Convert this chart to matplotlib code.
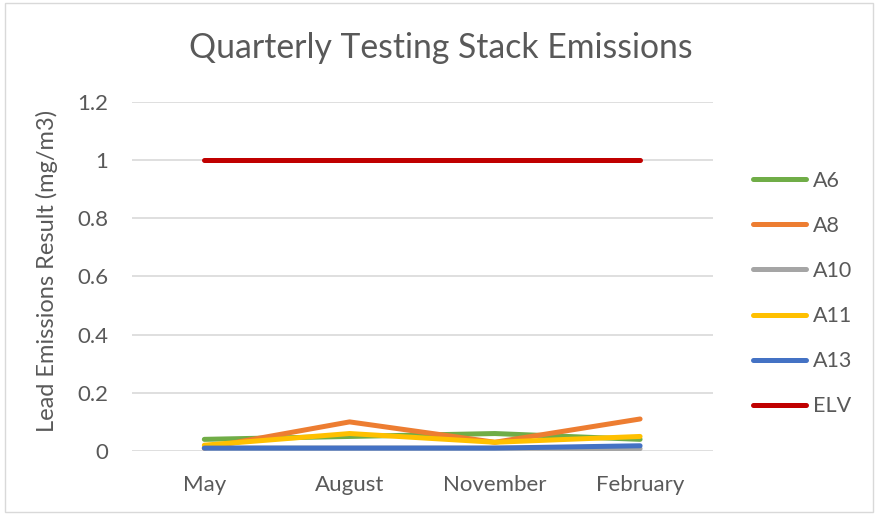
import matplotlib
matplotlib.use("Agg")
import matplotlib.pyplot as plt
from matplotlib.patches import Rectangle

categories = ["May", "August", "November", "February"]
A6 = [0.04, 0.05, 0.06, 0.04]
A8 = [0.01, 0.10, 0.03, 0.11]
A10 = [0.01, 0.01, 0.01, 0.008]
A11 = [0.02, 0.06, 0.03, 0.05]
A13 = [0.01, 0.01, 0.01, 0.018]
ELV = [1, 1, 1, 1]
yticks = [0, 0.2, 0.4, 0.6, 0.8, 1, 1.2]
ytick_labels = ["0", "0.2", "0.4", "0.6", "0.8", "1", "1.2"]

series = [("A6", A6, "#70AD47"), ("A8", A8, "#ED7D31"), ("A10", A10, "#A5A5A5"),
          ("A11", A11, "#FFC000"), ("A13", A13, "#4472C4"), ("ELV", ELV, "#C00000")]

plt.rcParams['font.family'] = ['Lato', 'DejaVu Sans']
txt = "#595959"

fig = plt.figure(figsize=(8.78, 5.14), dpi=100)
fig.patches.append(Rectangle((5/878, 2/514), 868/878, 509/514, transform=fig.transFigure,
                             fill=False, edgecolor="#D9D9D9", linewidth=1))
ax = fig.add_axes([131.7/878, 63/514, 581/878, 349.3/514])
x = list(range(len(categories)))
for name, vals, col in series:
    ax.plot(x, vals, color=col, linewidth=3.6, solid_capstyle='round', label=name)

ax.set_xlim(-0.5, 3.5)
ax.set_ylim(0, 1.2)
ax.set_yticks(yticks)
ax.set_yticklabels(ytick_labels)
ax.set_xticks(x)
ax.set_xticklabels(categories)
ax.grid(axis='y', color="#D9D9D9", linewidth=1.2)
ax.set_axisbelow(True)
for s in ax.spines.values():
    s.set_visible(False)
ax.tick_params(axis='both', length=0, labelsize=16, colors=txt)
ax.tick_params(axis='y', pad=17)
ax.tick_params(axis='x', pad=17)
ax.set_ylabel("Lead Emissions Result (mg/m3)", fontsize=17, color=txt)
ax.yaxis.set_label_coords(58/878, 1 - 271/514, transform=fig.transFigure)
fig.text(441/878, 1 - 48/514, "Quarterly Testing Stack Emissions", fontsize=24.3,
         color=txt, ha='center', va='center')

leg = ax.legend(loc='center left', bbox_to_anchor=(734/878, 1 - 293.5/514),
                bbox_transform=fig.transFigure, frameon=False, fontsize=15.5,
                handlelength=2.45, handletextpad=0.3, labelspacing=1.17,
                labelcolor=txt)
fig.savefig("out.png", dpi=100)
